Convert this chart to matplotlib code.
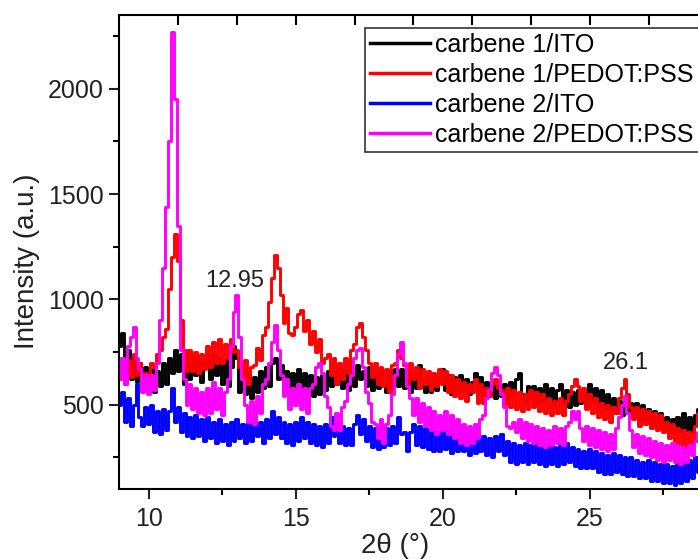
import numpy as np
import matplotlib
matplotlib.use("Agg")
from matplotlib import pyplot as plt

plt.rcParams['font.family'] = ['Liberation Sans', 'DejaVu Sans']

# 2theta grid of the digitised patterns (0.1 degree steps, 9.0 .. 29.0)
two_theta = np.round(np.arange(90, 291) * 0.1, 1)

carbene1_ito = [
    780, 840, 660, 760, 620, 730, 610, 700, 590, 680,
    580, 670, 560, 660, 590, 700, 600, 720, 650, 760,
    660, 740, 600, 700, 620, 730, 640, 720, 610, 700,
    730, 620, 740, 640, 720, 600, 710, 590, 680, 780,
    720, 560, 680, 550, 650, 530, 630, 560, 660, 580,
    680, 590, 700, 720, 620, 690, 570, 660, 560, 650,
    580, 670, 560, 650, 550, 640, 540, 630, 550, 640,
    570, 660, 590, 700, 600, 680, 580, 660, 570, 650,
    590, 690, 620, 660, 590, 680, 570, 650, 580, 670,
    600, 560, 660, 580, 670, 590, 670, 580, 650, 560,
    640, 580, 690, 600, 560, 650, 560, 640, 570, 630,
    670, 570, 640, 550, 630, 560, 640, 570, 620, 550,
    610, 650, 560, 630, 550, 610, 540, 600, 530, 590,
    540, 600, 530, 610, 540, 620, 650, 550, 520, 590,
    530, 590, 510, 580, 520, 600, 530, 580, 500, 570,
    600, 520, 570, 490, 560, 500, 570, 510, 560, 490,
    600, 520, 580, 500, 570, 480, 550, 470, 530, 460,
    520, 450, 530, 460, 510, 440, 510, 430, 500, 420,
    480, 410, 470, 390, 460, 380, 440, 370, 430, 360,
    440, 370, 460, 380, 440, 370, 450, 480, 430, 490,
    460,
]

carbene1_pedot = [
    620, 720, 600, 710, 630, 740, 640, 700, 570, 650,
    600, 700, 680, 740, 760, 820, 860, 1050, 1200, 1310,
    1180, 900, 760, 660, 760, 660, 750, 650, 740, 670,
    780, 680, 800, 700, 810, 700, 790, 720, 810, 750,
    760, 680, 620, 710, 600, 680, 690, 770, 710, 830,
    870, 990, 1100, 1210, 1150, 1020, 890, 960, 840, 830,
    870, 930, 950, 850, 900, 790, 850, 750, 810, 700,
    720, 740, 640, 720, 600, 700, 620, 720, 650, 760,
    790, 870, 890, 820, 760, 700, 630, 700, 600, 680,
    590, 670, 560, 690, 700, 760, 720, 690, 600, 700,
    620, 680, 580, 670, 600, 660, 570, 650, 590, 670,
    600, 660, 560, 640, 540, 620, 530, 610, 520, 600,
    560, 620, 510, 600, 510, 580, 540, 600, 620, 580,
    570, 500, 580, 490, 570, 480, 560, 470, 550, 480,
    570, 490, 560, 470, 550, 460, 530, 450, 520, 460,
    530, 450, 520, 550, 590, 620, 590, 520, 580, 480,
    550, 460, 530, 440, 510, 430, 500, 420, 490, 460,
    530, 580, 620, 550, 490, 430, 490, 400, 480, 410,
    470, 390, 460, 380, 450, 370, 420, 340, 410, 320,
    390, 310, 380, 300, 370, 320, 400, 460, 490, 510,
    490,
]

carbene2_ito = [
    500, 560, 420, 530, 400, 500, 600, 440, 400, 490,
    410, 500, 370, 470, 360, 480, 380, 470, 580, 420,
    490, 370, 460, 350, 440, 340, 450, 350, 430, 330,
    440, 340, 420, 320, 430, 330, 410, 310, 420, 330,
    430, 340, 410, 320, 420, 330, 440, 350, 420, 320,
    430, 340, 470, 360, 440, 340, 420, 320, 410, 310,
    420, 330, 440, 340, 420, 320, 410, 310, 400, 300,
    410, 320, 440, 350, 420, 320, 400, 310, 390, 310,
    410, 450, 360, 430, 330, 400, 300, 390, 290, 380,
    300, 390, 310, 400, 320, 440, 360, 370, 280, 370,
    410, 310, 400, 300, 390, 290, 380, 280, 370, 280,
    380, 290, 370, 270, 360, 280, 380, 280, 360, 260,
    350, 270, 370, 280, 350, 260, 340, 250, 350, 280,
    360, 260, 330, 230, 320, 220, 310, 230, 320, 220,
    310, 230, 320, 220, 300, 210, 310, 220, 300, 210,
    310, 220, 320, 230, 300, 210, 290, 200, 280, 200,
    290, 200, 280, 180, 270, 170, 260, 170, 270, 180,
    260, 170, 250, 160, 250, 160, 240, 150, 230, 150,
    240, 140, 230, 140, 220, 130, 220, 130, 210, 120,
    220, 130, 230, 140, 240, 150, 250, 180, 270, 200,
    280,
]

carbene2_pedot = [
    620, 720, 600, 780, 820, 870, 720, 670, 560, 640,
    550, 640, 570, 700, 900, 1150, 1440, 1750, 2270, 1950,
    1350, 760, 620, 500, 600, 480, 580, 460, 560, 450,
    580, 460, 610, 480, 580, 450, 560, 620, 780, 940,
    1020, 820, 620, 500, 420, 520, 410, 540, 460, 600,
    620, 700, 800, 880, 760, 640, 540, 620, 480, 580,
    500, 600, 480, 580, 460, 580, 600, 680, 700, 650,
    540, 490, 400, 380, 460, 380, 490, 520, 600, 640,
    720, 760, 770, 680, 560, 510, 420, 410, 340, 430,
    320, 410, 450, 550, 640, 740, 800, 700, 590, 530,
    450, 530, 420, 510, 400, 490, 380, 470, 360, 450,
    380, 470, 360, 450, 340, 430, 320, 410, 310, 400,
    320, 410, 340, 430, 450, 530, 570, 650, 680, 640,
    550, 490, 400, 390, 420, 370, 430, 340, 420, 330,
    410, 320, 400, 310, 390, 300, 380, 310, 400, 320,
    390, 310, 400, 420, 470, 430, 470, 390, 330, 400,
    310, 390, 300, 380, 290, 370, 280, 360, 290, 390,
    440, 500, 540, 460, 380, 300, 360, 270, 350, 260,
    340, 250, 330, 240, 320, 230, 310, 240, 320, 230,
    310, 220, 300, 230, 310, 260, 330, 370, 400, 370,
    400,
]

series = [
    ("carbene 1/ITO", carbene1_ito, "#000000"),
    ("carbene 1/PEDOT:PSS", carbene1_pedot, "#ff0000"),
    ("carbene 2/ITO", carbene2_ito, "#0000ff"),
    ("carbene 2/PEDOT:PSS", carbene2_pedot, "#ff00ff"),
]

peak_labels = [("12.95", 12.93, 1089), ("26.1", 26.22, 700)]

fig = plt.figure(figsize=(6.98, 5.59), dpi=100)
# the plot is cropped on the right, so the axes run past the figure edge
ax = fig.add_axes([0.171, 0.1252, 0.8845, 0.848])

for name, vals, col in series:
    ax.plot(two_theta, vals, color=col, lw=2.1, drawstyle="steps-mid", label=name)

for txt, px, py in peak_labels:
    ax.text(px, py, txt, fontsize=17, color="#222222", ha="center", va="center")

ax.set_xlim(9, 30)
ax.set_ylim(100, 2350)
ax.set_xticks([10, 15, 20, 25])
ax.set_xticks([12.5, 17.5, 22.5, 27.5], minor=True)
ax.set_yticks([500, 1000, 1500, 2000])
ax.set_yticks([250, 750, 1250, 1750, 2250], minor=True)
ax.tick_params(which="major", direction="out", length=7, width=1.5,
               labelsize=18, pad=4, colors="#222222")
ax.tick_params(which="minor", direction="out", length=4, width=1.5)
ax.tick_params(axis="x", pad=6)
for s in ax.spines.values():
    s.set_linewidth(1.5)
ax.spines["top"].set_visible(False)

top = ax.secondary_xaxis("top")
top.set_xticks(np.arange(11, 31, 2))
top.tick_params(direction="in", length=7, width=1.5, labeltop=False)
top.spines["top"].set_linewidth(1.5)

fig.text(27 / 698, 1 - 261 / 559, "Intensity (a.u.)", rotation=90,
         fontsize=20, color="#222222", ha="center", va="center")
fig.text(395 / 698, 1 - 546 / 559, "2\u03b8 (\u00b0)", fontsize=20,
         color="#222222", ha="center", va="center")

leg = ax.legend(loc="upper left", bbox_to_anchor=(365 / 698, 1 - 28 / 559),
                bbox_transform=fig.transFigure, fontsize=18, frameon=True,
                fancybox=False, edgecolor="black", borderaxespad=0,
                borderpad=0.2, handlelength=2.4, handletextpad=0.2,
                labelspacing=0.24)
leg.get_frame().set_linewidth(1.2)
for ln in leg.get_lines():
    ln.set_linewidth(2.5)

fig.savefig("out.png", dpi=100)
